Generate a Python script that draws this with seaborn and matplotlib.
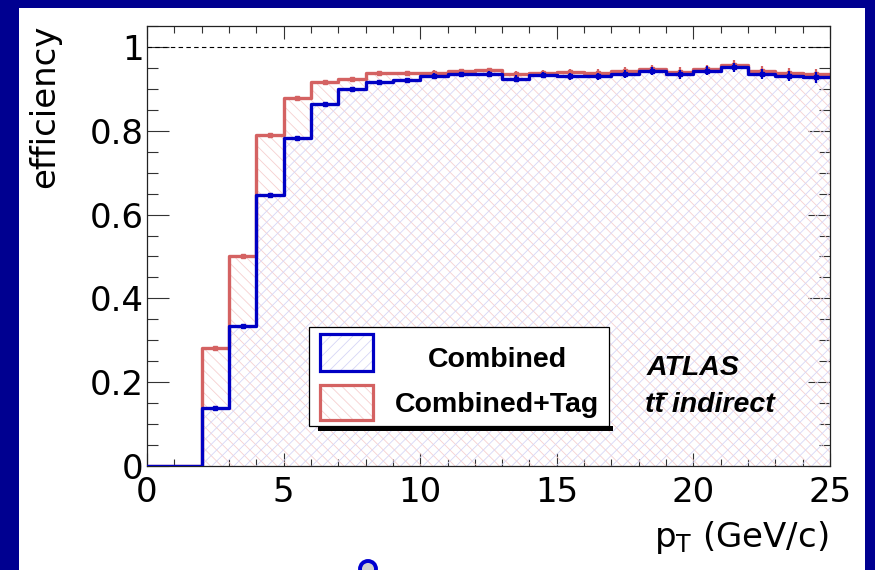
import numpy as np
import pandas as pd
import matplotlib
matplotlib.use("Agg")
import matplotlib.pyplot as plt
import seaborn as sns
from matplotlib.patches import Rectangle, Ellipse
from matplotlib.ticker import MultipleLocator, FixedLocator, FixedFormatter

# ---------------- data ----------------
bin_edges = list(range(0, 26))
combined = [0.0, 0.0, 0.139, 0.334, 0.647, 0.783, 0.864, 0.900, 0.917, 0.922,
            0.931, 0.935, 0.936, 0.924, 0.933, 0.930, 0.930, 0.936, 0.943, 0.935,
            0.943, 0.951, 0.936, 0.930, 0.928]
combined_err = [0.0, 0.0, 0.002, 0.003, 0.003, 0.003, 0.003, 0.004, 0.005, 0.005,
                0.006, 0.006, 0.007, 0.008, 0.008, 0.009, 0.009, 0.010, 0.010, 0.011,
                0.011, 0.010, 0.012, 0.012, 0.013]
combined_tag = [0.0, 0.0, 0.282, 0.501, 0.790, 0.877, 0.917, 0.924, 0.938, 0.937,
                0.939, 0.942, 0.944, 0.935, 0.939, 0.940, 0.939, 0.943, 0.947, 0.941,
                0.947, 0.958, 0.943, 0.939, 0.936]
combined_tag_err = [0.0, 0.0, 0.002, 0.003, 0.003, 0.003, 0.003, 0.004, 0.004, 0.005,
                    0.005, 0.006, 0.006, 0.007, 0.007, 0.008, 0.008, 0.009, 0.009, 0.010,
                    0.010, 0.010, 0.011, 0.011, 0.012]
series_names = ["Combined", "Combined+Tag"]
x_ticks = [0, 5, 10, 15, 20, 25]
x_tick_labels = ["0", "5", "10", "15", "20", "25"]
y_ticks = [0, 0.2, 0.4, 0.6, 0.8, 1.0]
y_tick_labels = ["0", "0.2", "0.4", "0.6", "0.8", "1"]

# ---------------- style ----------------
W, H = 875, 570
BLUE = "#0000c4"
RED = "#d46262"
BLUE_HATCH = "#d6d6f6"
RED_HATCH = "#f6d0d0"
NAVY = "#000090"

sns.set_style("ticks")
plt.rcParams["font.family"] = ["DejaVu Sans"]
plt.rcParams["text.color"] = "black"
plt.rcParams["hatch.linewidth"] = 0.6
plt.rcParams["mathtext.fontset"] = "custom"
plt.rcParams["mathtext.rm"] = "DejaVu Sans"
plt.rcParams["mathtext.it"] = "DejaVu Sans:italic"

fig = plt.figure(figsize=(W / 100, H / 100), dpi=100, facecolor=NAVY)


def fx(x):
    return x / W


def fy(y):
    return 1 - y / H


# white slide area
fig.add_artist(Rectangle((fx(19), 0), fx(865) - fx(19), fy(8), transform=fig.transFigure,
                         facecolor="white", edgecolor="none", zorder=-10))

ax = fig.add_axes([fx(147), fy(466), fx(830) - fx(147), fy(26) - fy(466)])
ax.set_facecolor("white")

centers = np.array(bin_edges[:-1]) + 0.5
df = pd.DataFrame({
    "pt": np.concatenate([centers, centers]),
    "eff": np.concatenate([combined, combined_tag]),
    "err": np.concatenate([combined_err, combined_tag_err]),
    "series": [series_names[0]] * len(centers) + [series_names[1]] * len(centers),
})

# hatched fills
for name, hatch, hcol in [(series_names[1], "\\\\\\", RED_HATCH), (series_names[0], "///", BLUE_HATCH)]:
    d = df[df.series == name]
    vals = d["eff"].to_numpy()
    ax.fill_between(bin_edges, np.append(vals, vals[-1]), step="post", facecolor="none",
                    edgecolor=hcol, hatch=hatch, linewidth=0, zorder=1)

# step histograms (red first, blue on top)
for name, col in [(series_names[1], RED), (series_names[0], BLUE)]:
    d = df[df.series == name]
    sns.histplot(data=d, x="pt", weights="eff", bins=bin_edges, element="step", fill=False,
                 color=col, linewidth=2.4, ax=ax, zorder=3 if col == BLUE else 2)
    m = d["eff"] > 0
    ax.errorbar(d["pt"][m], d["eff"][m], yerr=d["err"][m], fmt="s", ms=3.2, color=col,
                elinewidth=1.6, capsize=0, zorder=4 if col == BLUE else 2.5)

ax.axhline(1.0, color="black", lw=0.8, ls=(0, (4, 3)), zorder=1.5)

ax.set_xlim(0, 25)
ax.set_ylim(0, 1.05)
ax.set_xlabel("")
ax.set_ylabel("")
ax.xaxis.set_major_locator(FixedLocator(x_ticks))
ax.xaxis.set_major_formatter(FixedFormatter(x_tick_labels))
ax.xaxis.set_minor_locator(MultipleLocator(1))
ax.yaxis.set_major_locator(FixedLocator(y_ticks))
ax.yaxis.set_major_formatter(FixedFormatter(y_tick_labels))
ax.yaxis.set_minor_locator(MultipleLocator(0.05))
ax.tick_params(axis="both", which="both", direction="in", top=True, right=True,
               width=0.8, color="#333333", labelsize=24.5, labelcolor="black")
ax.tick_params(axis="x", which="major", length=9.5, pad=7)
ax.tick_params(axis="x", which="minor", length=5)
ax.tick_params(axis="y", which="major", length=15.5, pad=2.5)
ax.tick_params(axis="y", which="minor", length=7.8)
for s in ax.spines.values():
    s.set_linewidth(0.9)
    s.set_color("#222222")
    s.set_visible(True)

# axis titles
fig.text(fx(45), fy(25), "efficiency", rotation=90, ha="center", va="top", fontsize=24.5,
         color="black")
fig.text(fx(828), fy(547), r"$\mathregular{p_T}$ (GeV/c)", ha="right", va="baseline",
         fontsize=24.5, color="black")

# legend
fig.add_artist(Rectangle((fx(318), fy(431)), fx(613) - fx(318), fy(426) - fy(431),
                         transform=fig.transFigure, facecolor="black", edgecolor="none", zorder=5))
fig.add_artist(Rectangle((fx(309), fy(426)), fx(609) - fx(309), fy(327) - fy(426),
                         transform=fig.transFigure, facecolor="white", edgecolor="black",
                         lw=0.9, zorder=6))
for (y0, y1), col, hcol, hatch, name, ty in [((334, 371), BLUE, BLUE_HATCH, "///", series_names[0], 360),
                                              ((385, 420), RED, RED_HATCH, "\\\\\\", series_names[1], 405)]:
    fig.add_artist(Rectangle((fx(320), fy(y1)), fx(373) - fx(320), fy(y0) - fy(y1),
                             transform=fig.transFigure, facecolor="white", edgecolor=hcol,
                             hatch=hatch, lw=0, zorder=7))
    fig.add_artist(Rectangle((fx(320), fy(y1)), fx(373) - fx(320), fy(y0) - fy(y1),
                             transform=fig.transFigure, facecolor="none", edgecolor=col,
                             lw=2.3, zorder=8))
    fig.text(fx(497), fy(ty), name, ha="center", va="center", fontsize=20.5, color="black",
             fontweight="bold", family=["Liberation Sans"], zorder=9)

# ATLAS label
fig.text(fx(647), fy(368), "ATLAS", ha="left", va="center", fontsize=20.5, fontweight="bold",
         style="italic", family=["Liberation Sans"], color="black")
tt = fig.text(fx(645), fy(405), "tt indirect", ha="left", va="center", color="black",
              fontsize=20.5, fontweight="bold", style="italic", family=["Liberation Sans"])
# overbar on the second t (anti-top)
fig.add_artist(matplotlib.text.Annotation("", xy=(0.170, 0.93), xytext=(0.098, 0.93),
                                          xycoords=tt, textcoords=tt,
                                          arrowprops=dict(arrowstyle="-", lw=1.8, color="black",
                                                          shrinkA=0, shrinkB=0)))

# slide decoration at the bottom
fig.add_artist(Ellipse((fx(368), fy(569)), 16 / W, 16 / H, transform=fig.transFigure,
                       facecolor="#d0d0d0", edgecolor="#0000d0", lw=2.8, zorder=5))

fig.savefig("out.png", dpi=100, facecolor=NAVY)
